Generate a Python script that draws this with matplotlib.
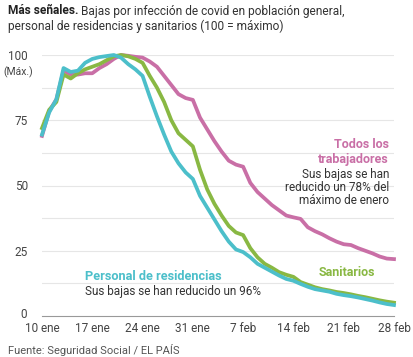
import matplotlib.pyplot as plt
import numpy as np

# dias desde el 10 de enero
days = np.arange(50)

todos = [69, 78.5, 83, 94, 92.5, 92.5, 93, 93, 95, 96.5,
         98.5, 100, 99.7, 99.3, 99, 97.5, 95.5, 92, 88.5, 85,
         83.5, 82.8, 76, 71.5, 67, 63, 59.5, 58, 57.2, 51,
         47.5, 45, 42.5, 40.5, 38.5, 37.8, 37.2, 34, 32.5, 31.3,
         29.8, 28.5, 27.5, 27.2, 26, 25, 24, 22.8, 22, 21.8]

sanitarios = [72, 79, 82, 92.5, 91, 93, 94.5, 95.5, 96.5, 98,
              99.5, 100, 99.5, 98.5, 97, 92, 87.5, 82, 75, 70,
              67.5, 65, 56, 48.5, 43, 38.5, 34.5, 32, 31, 26,
              22.5, 20, 18.5, 16.8, 15.8, 15, 13, 12, 11, 10.3,
              9.8, 9.2, 8.8, 8.3, 7.7, 7.2, 6.6, 6, 5.5, 5.1]

residencias = [69.5, 78, 83, 95, 93.5, 94, 97, 98.5, 99.2, 99.6,
               100, 99, 96.5, 94.5, 92, 84, 76.5, 69.5, 63, 58.5,
               55, 52.5, 46, 41.5, 37, 32.5, 28.5, 25.5, 24.5, 22.5,
               20, 18.5, 17, 15.5, 14.2, 13.5, 12.3, 11.2, 10.3, 9.8,
               9.3, 8.5, 8, 7.6, 7.1, 6.5, 5.9, 5.2, 4.6, 4.2]

xtick_pos = [0, 7, 14, 21, 28, 35, 42, 49]
xtick_labels = ['10 ene', '17 ene', '24 ene', '31 ene', '7 feb', '14 feb', '21 feb', '28 feb']
ytick_pos = [0, 25, 50, 75, 100]
ytick_labels = ['0', '25', '50', '75', '100']

PINK = '#c96fa6'
GREEN = '#89b843'
CYAN = '#4cbfca'
TXT = '#333333'

plt.rcParams['font.family'] = ['Roboto', 'DejaVu Sans']

fig = plt.figure(figsize=(4.14, 3.57), dpi=100)
ax = fig.add_axes([42/414, 1-316/357, 352/414, 261/357])

for y in np.arange(12.5, 101, 12.5):
    ax.axhline(y, color='#e6e6e6', lw=0.8, zorder=0)

ax.plot(days, todos, color=PINK, lw=2.7, clip_on=False)
ax.plot(days, sanitarios, color=GREEN, lw=2.7, clip_on=False)
ax.plot(days, residencias, color=CYAN, lw=2.7, clip_on=False)

ax.set_xlim(0, 49)
ax.set_ylim(0, 100)
for s in ['top', 'right', 'left']:
    ax.spines[s].set_visible(False)
ax.spines['bottom'].set_color('#999999')
ax.spines['bottom'].set_linewidth(0.8)

ax.set_xticks(xtick_pos)
ax.set_xticklabels(xtick_labels)
ax.set_yticks(ytick_pos[1:])
ax.set_yticklabels(ytick_labels[1:])
ax.tick_params(length=0, labelsize=8.5, labelcolor='#444444')
ax.tick_params(axis='y', pad=10)
ax.tick_params(axis='x', pad=4.5)
# el 0 va a mano, un poco a la izquierda
ax.annotate(ytick_labels[0], xy=(0, ytick_pos[0]), xytext=(-11, 0.8),
            textcoords='offset points', ha='right', va='center',
            fontsize=8.5, color='#444444', annotation_clip=False)
ax.text(-0.025, 0.935, '(Máx.)', transform=ax.transAxes, ha='right', va='center',
        fontsize=7.5, color='#444444')

fx = lambda px: px/414
fy = lambda py: 1-py/357

# titulo
t1 = fig.text(fx(8), fy(11), 'Más señales.', fontsize=8.6, fontweight='bold',
              color='#222222', va='center')
ax.annotate(' Bajas por infección de covid en población general,', xy=(1, 0.5),
            xycoords=t1, va='center', fontsize=8.6, color=TXT, annotation_clip=False)
fig.text(fx(8), fy(26), 'personal de residencias y sanitarios (100 = máximo)',
         fontsize=8.6, color=TXT, va='center')

# anotaciones
fig.text(fx(389), fy(145), 'Todos los', ha='right', va='center', fontsize=9,
         fontweight='bold', color=PINK)
fig.text(fx(389), fy(159), 'trabajadores', ha='right', va='center', fontsize=9,
         fontweight='bold', color=PINK)
for i, s in enumerate(['Sus bajas se han', 'reducido un 78% del', 'máximo de enero']):
    fig.text(fx(389), fy(174 + 13.5*i), s, ha='right', va='center', fontsize=8.5, color=TXT)

fig.text(fx(375), fy(272), 'Sanitarios', ha='right', va='center', fontsize=9,
         fontweight='bold', color=GREEN)
fig.text(fx(85), fy(277), 'Personal de residencias', ha='left', va='center', fontsize=9.2,
         fontweight='bold', color=CYAN)
fig.text(fx(85), fy(291), 'Sus bajas se han reducido un 96%', ha='left', va='center',
         fontsize=8.5, color=TXT)

fig.text(fx(8), fy(350), 'Fuente: Seguridad Social / EL PAÍS', ha='left', va='center',
         fontsize=8, color='#555555')

fig.savefig('out.png', dpi=100)
